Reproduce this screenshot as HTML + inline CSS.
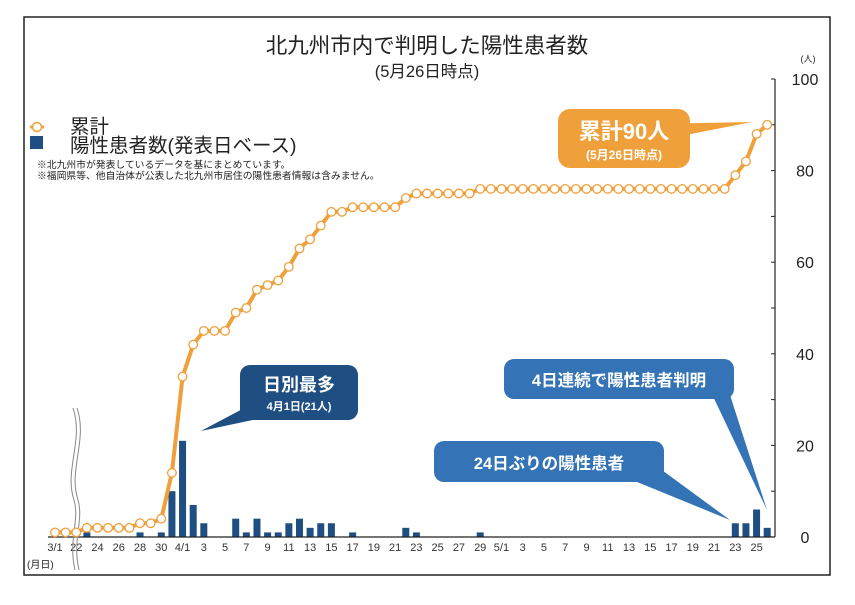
<!DOCTYPE html>
<html><head><meta charset="utf-8"><style>
body{margin:0;background:#fff;}
svg text{font-family:"Liberation Sans","Noto Sans CJK JP",sans-serif;}
</style></head><body>
<svg id="s" width="855" height="600" xmlns="http://www.w3.org/2000/svg">
<rect x="0" y="0" width="855" height="600" fill="#fff"/>
<rect x="24" y="17" width="806" height="558" fill="none" stroke="#222" stroke-width="1.5"/>
<text x="427" y="53" font-size="21.5" text-anchor="middle" fill="#222">北九州市内で判明した陽性患者数</text>
<text x="427" y="77" font-size="16.5" text-anchor="middle" fill="#222">(5月26日時点)</text>
<line x1="30" y1="127" x2="44" y2="127" stroke="#f0a03a" stroke-width="3"/>
<circle cx="37" cy="127" r="4.5" fill="#fff" stroke="#f0a03a" stroke-width="1.5"/>
<text x="70" y="133" font-size="19.5" fill="#222">累計</text>
<rect x="30" y="136" width="13" height="13" fill="#1f4e82"/>
<text x="70" y="152" font-size="19.5" fill="#222">陽性患者数(発表日ベース)</text>
<text x="37" y="168" font-size="9.8" fill="#222">※北九州市が発表しているデータを基にまとめています。</text>
<text x="37" y="179" font-size="9.8" fill="#222">※福岡県等、他自治体が公表した北九州市居住の陽性患者情報は含みません。</text>
<text x="808" y="62" font-size="9" fill="#222" text-anchor="middle">(人)</text>
<text x="27" y="568" font-size="10" fill="#222">(月日)</text>
<g id="g"></g>
</svg>
<script>
var cum=[1,1,1,2,2,2,2,2,3,3,4,14,35,42,45,45,45,49,50,54,55,56,59,63,65,68,71,71,72,72,72,72,72,74,75,75,75,75,75,75,76];
while(cum.length<64)cum.push(76);
cum.push(79,82,88,90);
var bars=[];for(var i=0;i<cum.length;i++){bars.push(i<2?0:cum[i]-cum[i-1]);}
function X(i){return 55+10.63*i;}
function Y(v){return 537-v*4.58;}
var h='';
h+='<line x1="775" y1="79" x2="775" y2="537" stroke="#222" stroke-width="1.2"/>';
for(var v=0;v<=100;v+=10){h+='<line x1="771" y1="'+Y(v)+'" x2="775" y2="'+Y(v)+'" stroke="#222"/>';}
for(var v=0;v<=100;v+=20){h+='<text x="805" y="'+(Y(v)+6)+'" font-size="16" text-anchor="middle" fill="#222">'+v+'</text>';}
for(var i=0;i<cum.length;i++){if(bars[i]>0)h+='<rect x="'+(X(i)-3.5)+'" y="'+Y(bars[i])+'" width="7" height="'+(bars[i]*4.58)+'" fill="#1f4e82"/>';}
h+='<line x1="48" y1="537" x2="775" y2="537" stroke="#222" stroke-width="1.2"/>';
var labs={0:'3/1'};
for(var i=2;i<=11;i+=2)labs[i]=String(20+i);
labs[12]='4/1';
for(var d=3;d<=29;d+=2)labs[11+d]=String(d);
labs[42]='5/1';
for(var d=3;d<=25;d+=2)labs[41+d]=String(d);
for(var k in labs){h+='<text x="'+X(+k)+'" y="551" font-size="11" text-anchor="middle" fill="#333">'+labs[k]+'</text>';}
h+='<path d="M73 408 C84 440,64 470,74 500 C80 520,68 540,75 570" fill="none" stroke="#888" stroke-width="1"/>';
h+='<path d="M77 408 C88 440,68 470,78 500 C84 520,72 540,79 570" fill="none" stroke="#888" stroke-width="1"/>';
var p='';for(var i=0;i<cum.length;i++)p+=(i?'L':'M')+X(i).toFixed(1)+' '+Y(cum[i]).toFixed(1);
h+='<path d="'+p+'" fill="none" stroke="#f0a03a" stroke-width="4"/>';
for(var i=0;i<cum.length;i++)h+='<circle cx="'+X(i)+'" cy="'+Y(cum[i])+'" r="4.3" fill="#fff" stroke="#f0a03a" stroke-width="1.3"/>';
h+='<path d="M600 125 L752 122 L650 142 Z" fill="#f0a03a"/>';
h+='<rect x="558" y="109" width="132" height="59" rx="12" fill="#f0a03a"/>';
h+='<text x="624" y="139" font-size="22" font-weight="bold" fill="#fff" text-anchor="middle">累計90人</text>';
h+='<text x="624" y="159" font-size="12" font-weight="bold" fill="#fff" text-anchor="middle">(5月26日時点)</text>';
h+='<path d="M250 405 L201 431 L262 418 Z" fill="#1f4e82"/>';
h+='<rect x="240" y="365" width="118" height="55" rx="10" fill="#1f4e82"/>';
h+='<text x="299" y="391" font-size="18" font-weight="bold" fill="#fff" text-anchor="middle">日別最多</text>';
h+='<text x="299" y="410" font-size="11" font-weight="bold" fill="#fff" text-anchor="middle">4月1日(21人)</text>';
h+='<path d="M710 390 L767 510 L730 395 Z" fill="#3473b6"/>';
h+='<rect x="504" y="359" width="230" height="40" rx="10" fill="#3473b6"/>';
h+='<text x="619" y="386" font-size="16.5" font-weight="bold" fill="#fff" text-anchor="middle">4日連続で陽性患者判明</text>';
h+='<path d="M620 475 L730 520 L655 465 Z" fill="#3473b6"/>';
h+='<rect x="434" y="441" width="230" height="41" rx="10" fill="#3473b6"/>';
h+='<text x="549" y="469" font-size="16.5" font-weight="bold" fill="#fff" text-anchor="middle">24日ぶりの陽性患者</text>';
document.getElementById('g').innerHTML=h;
</script>
</body></html>
